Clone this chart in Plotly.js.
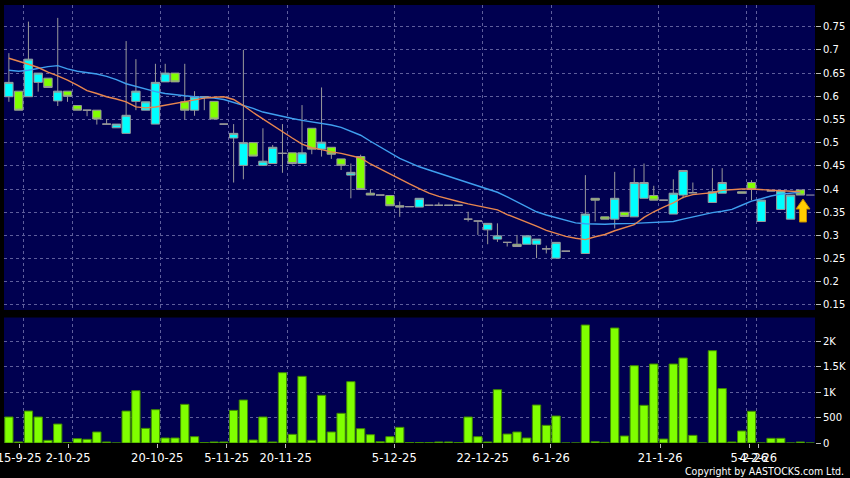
<!DOCTYPE html>
<html><head><meta charset="utf-8">
<script src="https://cdn.plot.ly/plotly-3.0.1.min.js"></script>
<style>html,body{margin:0;padding:0;background:#000;}#chart{width:850px;height:478px;}</style>
</head><body><div id="chart"></div>
<script>
// ---- data (one entry per trading slot, left to right) ----
const openP = [0.599,0.611,0.599,0.630,0.639,0.590,0.611,0.580,0.570,0.570,
0.540,0.532,0.520,0.589,0.570,0.540,0.631,0.650,0.588,0.570,
0.599,0.589,0.540,0.510,0.451,0.500,0.451,0.455,0.477,0.478,
0.455,0.531,0.486,0.490,0.465,0.430,0.470,0.391,0.387,0.386,
0.364,0.362,0.361,0.365,0.365,0.365,0.365,0.335,0.331,0.312,
0.292,0.285,0.281,0.281,0.281,0.271,0.251,0.266,null,0.261,
0.380,0.340,0.335,0.350,0.340,0.380,0.386,0.376,0.346,0.387,
0.392,null,0.371,0.391,0.399,0.394,0.414,0.330,0.396,0.356,
0.335,0.398,null];
const highP = [0.693,0.611,0.761,0.650,0.639,0.769,0.611,0.580,0.570,0.570,
0.551,0.540,0.719,0.680,0.588,0.670,0.670,0.650,0.670,0.611,
0.599,0.589,0.540,0.540,0.700,0.500,0.531,0.495,0.540,0.478,
0.581,0.531,0.619,0.490,0.465,0.455,0.474,0.399,0.387,0.386,
0.373,0.362,0.380,0.365,0.371,0.365,0.365,0.351,0.331,0.326,
0.326,0.285,0.301,0.299,0.292,0.278,0.285,0.266,null,0.430,
0.380,0.340,0.437,0.350,0.445,0.455,0.407,0.376,0.421,0.440,
0.414,null,0.445,0.445,0.399,0.394,0.419,0.376,0.396,0.396,
0.387,0.398,null];
const lowP = [0.588,0.570,0.599,0.610,0.619,0.579,0.588,0.570,0.557,0.539,
0.540,0.532,0.520,0.570,0.570,0.540,0.631,0.631,0.550,0.558,
0.570,0.551,0.540,0.414,0.421,0.471,0.451,0.455,0.435,0.453,
0.455,0.475,0.470,0.465,0.441,0.380,0.399,0.387,0.387,0.364,
0.340,0.362,0.361,0.365,0.365,0.365,0.365,0.330,0.301,0.281,
0.286,0.276,0.276,0.281,0.251,0.261,0.251,0.266,null,0.261,
0.330,0.335,0.315,0.341,0.340,0.380,0.376,0.376,0.346,0.380,
0.392,null,0.371,0.391,0.399,0.391,0.376,0.330,0.396,0.356,
0.335,0.387,null];
const closeP = [0.630,0.570,0.680,0.650,0.619,0.611,0.600,0.570,0.570,0.551,
0.540,0.540,0.559,0.611,0.588,0.630,0.650,0.631,0.570,0.599,
0.599,0.551,0.540,0.520,0.500,0.471,0.460,0.490,0.477,0.455,
0.478,0.486,0.501,0.475,0.451,0.436,0.399,0.387,0.387,0.364,
0.361,0.362,0.380,0.365,0.365,0.365,0.365,0.335,0.331,0.326,
0.299,0.285,0.276,0.299,0.292,0.271,0.285,0.266,null,0.346,
0.376,0.335,0.380,0.341,0.414,0.414,0.376,0.376,0.391,0.440,
0.392,null,0.394,0.414,0.399,0.391,0.399,0.376,0.396,0.396,
0.387,0.387,null];
const volume = [510,20,627,510,52,372,10,85,72,216,
20,0,627,1026,287,653,98,98,758,124,
8,20,20,640,843,59,510,20,1379,170,
1307,52,935,216,582,1203,281,163,26,124,
307,8,8,10,20,20,10,510,124,20,
1046,176,216,98,745,346,529,0,0,2314,
26,13,2255,137,1516,739,1549,78,1549,1667,
150,0,1810,1067,20,235,622,0,92,92,
0,20,0];
const maShort = [0.682,0.676,0.669,0.662,0.652,0.644,0.635,0.624,0.612,0.606,
0.599,0.594,0.588,0.577,0.575,0.577,0.581,0.585,0.589,0.592,
0.596,0.598,0.599,0.593,0.580,0.565,0.551,0.538,0.524,0.510,
0.497,0.489,0.485,0.480,0.477,0.472,0.467,0.454,0.443,0.433,
0.422,0.411,0.401,0.391,0.384,0.378,0.373,0.368,0.364,0.360,
0.355,0.345,0.337,0.328,0.320,0.311,0.304,0.298,0.294,0.291,
0.297,0.302,0.310,0.316,0.323,0.339,0.351,0.361,0.370,0.382,
0.388,0.390,0.392,0.397,0.399,0.400,0.400,0.399,0.397,0.396,
0.396,0.394,null];
const maLong = [0.656,0.654,0.656,0.660,0.664,0.666,0.659,0.654,0.651,0.648,
0.643,0.636,0.627,0.621,0.615,0.610,0.606,0.603,0.601,0.599,
0.598,0.596,0.593,0.587,0.581,0.574,0.566,0.561,0.557,0.552,
0.548,0.545,0.542,0.538,0.533,0.525,0.516,0.503,0.491,0.478,
0.466,0.457,0.448,0.441,0.434,0.427,0.420,0.413,0.406,0.400,
0.393,0.383,0.372,0.361,0.351,0.344,0.338,0.333,0.327,0.325,
0.324,0.324,0.325,0.325,0.326,0.327,0.328,0.329,0.330,0.335,
0.340,0.345,0.349,0.352,0.356,0.365,0.374,0.379,0.385,0.389,
0.391,0.393,null];
const tickPos = [1.05,6.07,15.18,22.28,28.32,39.44,48.48,55.48,66.66,75.77,76.7];
const tickLabels = ["15-9-25","2-10-25","20-10-25","5-11-25","20-11-25","5-12-25","22-12-25","6-1-26","21-1-26","5-2-26","4-2-26"];
const gridPos = [1.5,6.5,15.5,22.5,28.5,39.5,48.5,55.5,66.5,75.5,76.5];
const volTickVals = [0,500,1000,1500,2000];
const volTickText = ["0","500","1K","1.5K","2K"];

// ---- build ----
const idx = openP.map((_, i) => i);
const lastI = closeP.reduce((a, v, i) => (v !== null ? i : a), 0);
const lastClose = closeP[lastI];

const gridCol = '#5e5e9c';
const tickFont = {family: 'DejaVu Sans, Verdana, sans-serif', size: 10, color: '#ffffff'};

const traces = [
  {type: 'bar', x: idx, y: volume, xaxis: 'x', yaxis: 'y2',
   marker: {color: '#80ff00', line: {color: '#3f8a00', width: 1}}, hoverinfo: 'skip'},
  {type: 'candlestick', x: idx, open: openP, high: highP, low: lowP, close: closeP,
   xaxis: 'x', yaxis: 'y',
   increasing: {line: {color: '#9a9a9a', width: 1}, fillcolor: '#00ffff'},
   decreasing: {line: {color: '#9a9a9a', width: 1}, fillcolor: '#80ff00'},
   whiskerwidth: 0, hoverinfo: 'skip'},
  {type: 'scatter', mode: 'lines', x: idx, y: maLong, xaxis: 'x', yaxis: 'y',
   line: {color: '#3f9fef', width: 1.4}, hoverinfo: 'skip'},
  {type: 'scatter', mode: 'lines', x: idx, y: maShort, xaxis: 'x', yaxis: 'y',
   line: {color: '#e8864f', width: 1.4}, hoverinfo: 'skip'}
];

// pixel helpers for the decorative arrow (plot area: left 4, width 811, top 5, height 438)
const px = v => (v - 4) / 811;
const py = v => (443 - v) / 438;
const arrowPath = 'M ' + px(803) + ' ' + py(199) + ' L ' + px(810) + ' ' + py(209) +
  ' L ' + px(806.5) + ' ' + py(209) + ' L ' + px(806.5) + ' ' + py(222) +
  ' L ' + px(799.5) + ' ' + py(222) + ' L ' + px(799.5) + ' ' + py(209) +
  ' L ' + px(796) + ' ' + py(209) + ' Z';

const layout = {
  width: 850, height: 478,
  margin: {l: 4, r: 35, t: 5, b: 35},
  paper_bgcolor: '#000000', plot_bgcolor: '#000050',
  showlegend: false,
  boxgap: 0.1, boxgroupgap: 0.05, bargap: 0.15,
  xaxis: {anchor: 'y2', range: [-0.5, 82.5], rangeslider: {visible: false},
    tickmode: 'array', tickvals: tickPos, ticktext: tickLabels, tickangle: 0,
    ticklabeloverflow: 'allow',
    ticks: 'outside', ticklen: 4, tickcolor: '#bbbbbb', ticklabelstandoff: 0,
    tickfont: {family: 'DejaVu Sans, Verdana, sans-serif', size: 11.5, color: '#ffffff'},
    showgrid: false, zeroline: false, showline: false,
    minor: {tickmode: 'array', tickvals: gridPos, ticks: '', showgrid: true,
      gridcolor: gridCol, gridwidth: 1, griddash: 'dot'}},
  yaxis: {domain: [0.3037, 1], range: [0.1392, 0.7968], side: 'right',
    tickmode: 'linear', tick0: 0.15, dtick: 0.05,
    ticks: 'outside', ticklen: 5, tickcolor: '#bbbbbb', tickfont: tickFont,
    showgrid: true, gridcolor: gridCol, griddash: 'dot', gridwidth: 1,
    zeroline: false, showline: false},
  yaxis2: {domain: [0, 0.2865], range: [0, 2461], side: 'right',
    tickmode: 'array', tickvals: volTickVals, ticktext: volTickText,
    ticks: 'outside', ticklen: 5, tickcolor: '#bbbbbb', tickfont: tickFont,
    showgrid: true, gridcolor: gridCol, griddash: 'dot', gridwidth: 1,
    zeroline: false, showline: false},
  shapes: [
    {type: 'line', xref: 'x', yref: 'y', x0: lastI + 0.6, x1: lastI + 1.45,
     y0: lastClose, y1: lastClose, line: {color: '#aaaaaa', width: 1}},
    {type: 'path', xref: 'paper', yref: 'paper', path: arrowPath,
     fillcolor: '#ffcc00', line: {color: '#c08a00', width: 1}}
  ],
  annotations: [
    {xref: 'paper', yref: 'paper', x: px(846), y: py(471), xanchor: 'right', yanchor: 'middle',
     text: 'Copyright by AASTOCKS.com Ltd.', showarrow: false,
     font: {family: 'DejaVu Sans Condensed, Liberation Sans Narrow, DejaVu Sans, sans-serif', size: 10.5, color: '#ffffff'}}
  ]
};

Plotly.newPlot('chart', traces, layout, {staticPlot: true, displayModeBar: false});
</script>
</body></html>
